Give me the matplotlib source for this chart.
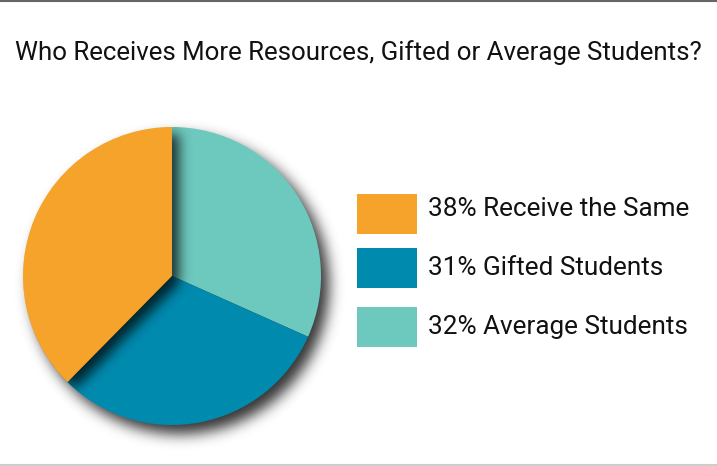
import matplotlib
matplotlib.use('Agg')
import matplotlib.pyplot as plt
import numpy as np
from matplotlib.patches import Rectangle, Circle, Wedge

plt.rcParams['font.family'] = ['Roboto', 'DejaVu Sans']

## data
title = 'Who Receives More Resources, Gifted or Average Students?'
labels = ['38% Receive the Same', '31% Gifted Students', '32% Average Students']
values = [38, 31, 32]
colors = ['#F5A32B', '#008AAE', '#6DC8BE']

W, H = 717, 466
fig = plt.figure(figsize=(W / 100, H / 100), dpi=100)
fig.patch.set_facecolor('white')

# frame lines top / bottom
fig.add_artist(plt.Line2D([0, 1], [1 - 1 / H, 1 - 1 / H], color='#666666', lw=1.5))
fig.add_artist(plt.Line2D([0, 1], [1.5 / H, 1.5 / H], color='#cccccc', lw=1.5))

fig.text(358 / W, 1 - 53 / H, title, ha='center', va='center', fontsize=18.6, color='#111111')

# pie axes in pixel space
cx, cy, r = 172, 276, 149
ax = fig.add_axes([0, 0, 1, 1])
ax.set_xlim(0, W)
ax.set_ylim(H, 0)
ax.axis('off')

# angles (start at top, go counter-clockwise)
fracs = np.array(values, dtype=float) / sum(values)
starts = 90 + 360 * np.concatenate([[0], np.cumsum(fracs)[:-1]])
ends = starts + 360 * fracs


def blur(img, sigma):
    k = np.arange(-3 * sigma, 3 * sigma + 1)
    g = np.exp(-k ** 2 / (2 * sigma ** 2))
    g /= g.sum()
    img = np.apply_along_axis(lambda m: np.convolve(m, g, mode='same'), 0, img)
    img = np.apply_along_axis(lambda m: np.convolve(m, g, mode='same'), 1, img)
    return img


yy, xx = np.mgrid[0:H, 0:W] + 0.5


def wedge_mask(x0, y0, a0, a1):
    dx = xx - x0
    dy = -(yy - y0)
    ang = (np.degrees(np.arctan2(dy, dx)) - a0) % 360
    return ((dx ** 2 + dy ** 2) <= r ** 2) & (ang <= (a1 - a0))


def shadow_img(mask, alpha, sigma):
    a = blur(mask.astype(float), sigma) * alpha
    rgba = np.zeros((H, W, 4))
    rgba[..., 3] = a
    return rgba


# outer shadow of the whole pie
disk = (xx - (cx + 8)) ** 2 + (yy - (cy + 9)) ** 2 <= r ** 2
ax.imshow(shadow_img(disk, 0.8, 7), extent=(0, W, H, 0), zorder=1, interpolation='bilinear')

for i in [2, 1, 0]:
    # screen y is flipped, so negate angles
    w = Wedge((cx, cy), r, -ends[i], -starts[i], facecolor=colors[i], edgecolor='none',
              zorder=4 if i == 0 else 2)
    ax.add_patch(w)

# shadow cast by the orange slice on the others
om = wedge_mask(cx + 7, cy + 7, starts[0], ends[0])
im = ax.imshow(shadow_img(om, 0.75, 6), extent=(0, W, H, 0), zorder=3, interpolation='bilinear')
clip = Circle((cx, cy), r, transform=ax.transData)
im.set_clip_path(clip)

# legend
box_y = [194, 248, 307]
text_y = [209, 268, 327]
for i, lab in enumerate(labels):
    ax.add_patch(Rectangle((357, box_y[i]), 60, 40, facecolor=colors[i], edgecolor='none'))
    ax.text(428, text_y[i], lab, ha='left', va='center', fontsize=18.8, color='#111111')

fig.savefig('out.png', dpi=100)
